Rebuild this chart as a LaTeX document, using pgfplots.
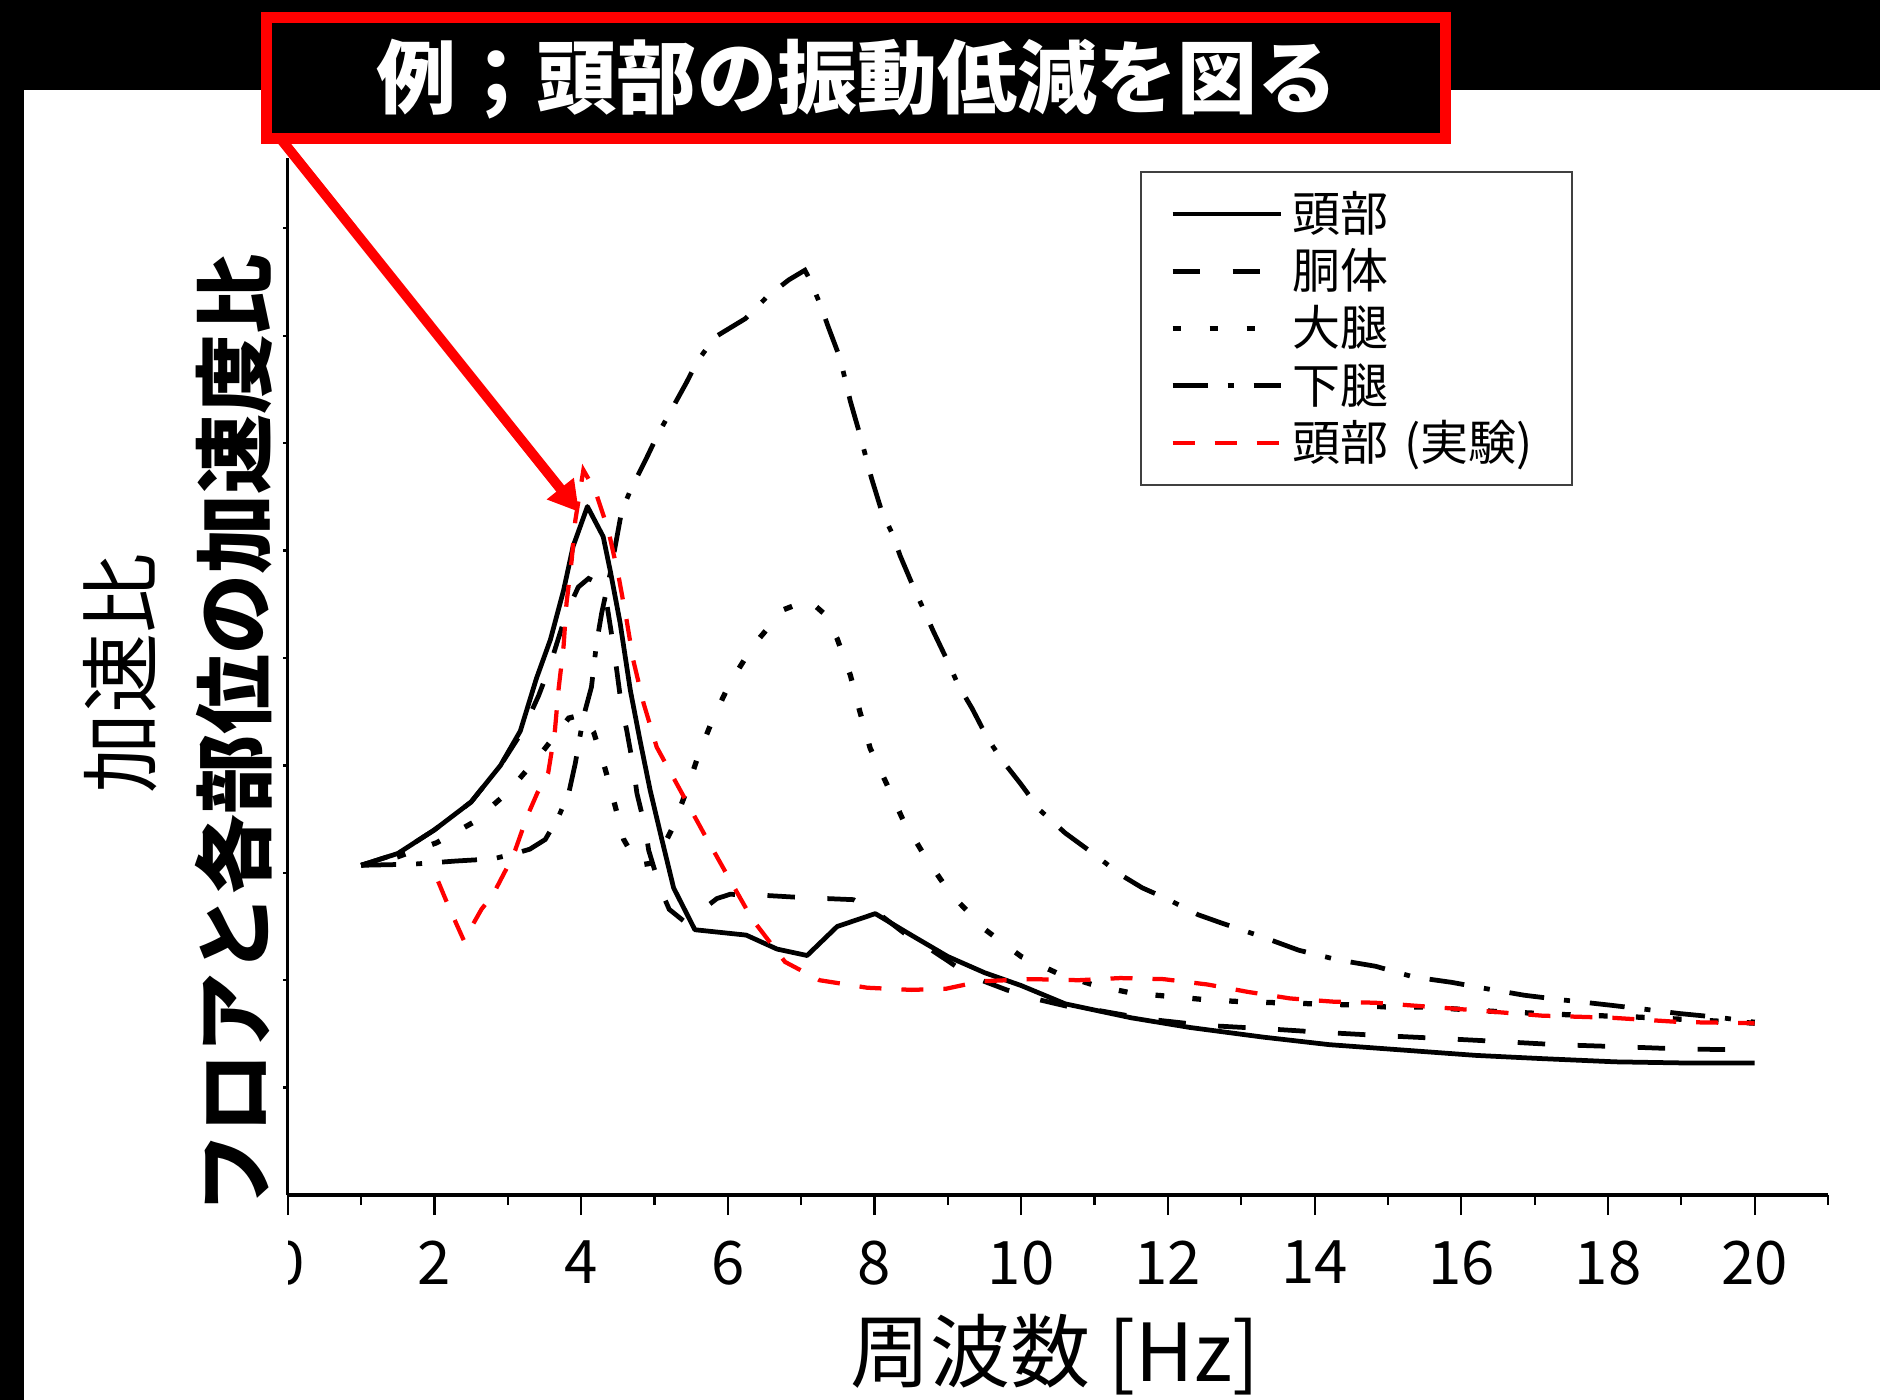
\documentclass[border=0pt]{standalone}
\usepackage{fontspec}
\setmainfont{Noto Sans CJK JP}
\usepackage{pgfplots}
\pgfplotsset{compat=1.18}
\usetikzlibrary{arrows.meta}
\begin{document}
\begin{tikzpicture}
\begin{scope}[x=0.4pt,y=-0.4pt]
\fill[black] (0,0) rectangle (1880,1400);
\fill[white] (24,90) rectangle (1880,1400);
\end{scope}
\begin{axis}[
  at={(115.12pt,-478pt)}, anchor=south west,
  scale only axis, width=616.08pt, height=414.8pt,
  xmin=0, xmax=21, ymin=0, ymax=9.655,
  axis lines=left, axis line style={-, line width=1.3pt},
  tick align=outside, tick pos=left,
  xtick={0,2,...,20}, minor xtick={1,3,...,21},
  ytick=\empty,
  major tick length=8pt, minor tick length=4pt,
  tick style={black, line width=0.9pt},
  /pgf/number format/assume math mode=true,
  xticklabel style={font=\fontsize{24}{24}\selectfont, inner sep=0pt, anchor=north, yshift=-10pt},
  clip=false,
  legend cell align=left,
  legend style={at={(0.5533,0.9875)}, anchor=north west,
    draw=black!75, line width=0.8pt, fill=white,
    font=\fontsize{19.2}{19.2}\selectfont,
    inner xsep=11.6pt, inner ysep=7.8pt,
    row sep=4.9pt, column sep=3.8pt,
    nodes={inner sep=0pt, text height=16pt, text depth=2pt, text width=100pt}},
  legend image code/.code={\draw[#1] (0pt,0pt) -- (43.2pt,0pt);},
]
\pgfplotsinvokeforeach{1,...,9}{\draw[line width=0.9pt] (axis cs:0,#1) -- ++(-1.8pt,0pt);}

% 頭部 (solid)
\addplot[black, line width=1.9pt, line join=round] coordinates {
(1.0,3.07) (1.5,3.18) (2.0,3.40) (2.5,3.66) (2.9,4.00) (3.17,4.32) (3.39,4.81)
(3.58,5.17) (3.76,5.63) (3.89,6.04) (4.085,6.41) (4.30,6.13) (4.40,5.80) (4.53,5.33)
(4.67,4.70) (4.80,4.24) (4.94,3.77) (5.10,3.31) (5.26,2.86) (5.55,2.47) (6.25,2.42)
(6.67,2.29) (7.08,2.23) (7.49,2.50) (8.01,2.62) (8.5,2.42) (9.0,2.22) (9.5,2.07)
(10.0,1.95) (10.6,1.78) (11.5,1.65) (12.3,1.56) (13.3,1.47) (14.2,1.40) (15.2,1.35)
(16.2,1.30) (17.1,1.27) (18.1,1.24) (19.0,1.23) (20,1.23)};
\addlegendentry{頭部}

% 胴体 (dashed)
\addplot[black, line width=1.9pt, dash pattern=on 11pt off 13pt] coordinates {
(1.0,3.07) (1.5,3.18) (2.0,3.40) (2.5,3.66) (2.9,4.00) (3.2,4.32) (3.42,4.65)
(3.57,4.92) (3.67,5.14) (3.80,5.42) (3.96,5.66) (4.10,5.74) (4.22,5.70) (4.35,5.50)
(4.44,5.11) (4.49,4.86) (4.55,4.55) (4.62,4.33) (4.71,3.99) (4.76,3.74) (4.87,3.43)
(4.92,3.21) (5.08,2.85) (5.2,2.66) (5.4,2.55) (5.55,2.59) (5.66,2.66) (5.85,2.76)
(6.03,2.80) (6.5,2.79) (7.0,2.77) (7.71,2.75) (8.0,2.65) (8.4,2.44) (8.6,2.36)
(9.0,2.18) (9.3,2.04) (9.8,1.91) (10.17,1.83) (10.67,1.75) (11.04,1.72) (11.7,1.64)
(12.5,1.58) (13.3,1.55) (14.1,1.515) (14.9,1.485) (15.8,1.455) (16.5,1.43) (17.3,1.40)
(18.2,1.38) (19.0,1.36) (20,1.35)};
\addlegendentry{胴体}

% 大腿 (dotted)
\addplot[black, line width=2.1pt, dash pattern=on 3.5pt off 11.3pt] coordinates {
(1.0,3.07) (1.5,3.15) (2.03,3.28) (2.53,3.47) (3.0,3.75) (3.44,4.10) (3.83,4.44)
(4.0,4.47) (4.17,4.31) (4.33,3.96) (4.46,3.63) (4.58,3.31) (4.78,3.07) (4.96,3.09)
(5.1,3.22) (5.24,3.41) (5.44,3.77) (5.6,4.10) (5.8,4.44) (6.03,4.77) (6.35,5.12)
(6.76,5.45) (7.1,5.54) (7.3,5.42) (7.49,5.18) (7.67,4.84) (7.8,4.50) (7.94,4.16)
(8.17,3.82) (8.39,3.49) (8.69,3.15) (9.03,2.81) (9.51,2.47) (10.0,2.22) (10.51,2.06)
(11.01,1.95) (11.51,1.88) (12.01,1.85) (12.49,1.82) (13.0,1.80) (13.5,1.79) (14.0,1.78)
(14.5,1.77) (15.0,1.75) (15.5,1.75) (16.44,1.71) (17.4,1.68) (18.3,1.66) (19.2,1.63)
(20,1.60)};
\addlegendentry{大腿}

% 下腿 (dash-dot)
\addplot[black, line width=1.9pt, dash pattern=on 14pt off 8pt on 2.4pt off 8pt] coordinates {
(1.0,3.07) (1.7,3.08) (2.3,3.11) (2.8,3.13) (3.1,3.18) (3.3,3.22) (3.51,3.31)
(3.69,3.52) (3.83,3.74) (3.92,4.02) (4.03,4.45) (4.14,4.73) (4.21,5.14) (4.28,5.42)
(4.4,5.8) (4.55,6.36) (4.67,6.56) (4.89,6.86) (5.03,7.06) (5.19,7.26) (5.44,7.57)
(5.58,7.76) (5.83,7.99) (6.24,8.16) (6.53,8.36) (6.83,8.52) (7.05,8.61) (7.12,8.52)
(7.26,8.29) (7.37,8.08) (7.53,7.79) (7.60,7.59) (7.67,7.39) (7.80,7.08) (7.96,6.67)
(8.10,6.36) (8.24,6.16) (8.35,5.95) (8.53,5.66) (8.67,5.45) (8.80,5.25) (9.01,4.95)
(9.14,4.75) (9.33,4.53) (9.55,4.24) (9.76,4.03) (9.99,3.83) (10.26,3.58) (10.6,3.37)
(10.98,3.18) (11.36,2.98) (11.65,2.86) (11.98,2.76) (12.41,2.61) (12.74,2.53)
(13.26,2.41) (13.78,2.28) (14.31,2.19) (14.83,2.13) (15.35,2.03) (15.87,1.98)
(16.35,1.92) (16.86,1.86) (17.4,1.815) (18.0,1.77) (18.5,1.73) (18.97,1.69)
(19.5,1.655) (20,1.61)};
\addlegendentry{下腿}

% 頭部（実験） (red dashed)
\addplot[red, line width=1.7pt, dash pattern=on 8.8pt off 8pt] coordinates {
(2.05,2.92) (2.19,2.69) (2.40,2.37) (2.64,2.66) (2.80,2.80) (2.99,3.05) (3.10,3.21)
(3.26,3.52) (3.40,3.74) (3.55,3.93) (3.64,4.31) (3.69,4.70) (3.76,5.11) (3.80,5.51)
(3.87,5.91) (3.92,6.28) (4.03,6.75) (4.19,6.56) (4.37,6.19) (4.51,5.76) (4.62,5.35)
(4.71,4.98) (4.85,4.58) (5.03,4.17) (5.35,3.77) (5.67,3.37) (5.99,2.98) (6.33,2.57)
(6.78,2.17) (7.25,2.00) (7.9,1.93) (8.5,1.91) (8.97,1.92) (9.45,1.99) (10.15,2.01)
(10.78,2.00) (11.35,2.02) (11.94,2.01) (12.54,1.96) (13.1,1.89) (13.67,1.83)
(14.26,1.80) (14.83,1.79) (15.42,1.76) (16.0,1.73) (17.1,1.67) (18.06,1.65)
(19.0,1.61) (20,1.60)};
\addlegendentry{頭部 (実験)}
\end{axis}
\begin{scope}[x=0.4pt,y=-0.4pt]
\fill[white] (236,1222) rectangle (287.5,1310);
\node[rotate=90,font=\fontsize{32}{32}\selectfont] at (120,673) {加速比};
\node[rotate=90,font=\bfseries\fontsize{32}{32}\selectfont] at (234,734) {フロアと各部位の加速度比};
\node[font=\fontsize{32}{32}\selectfont] at (1055,1355) {周波数 [Hz]};
\draw[red,line width=4pt,-{Triangle[length=12pt,width=13pt]}] (272,128) -- (579,512);
\fill[red] (261,12) rectangle (1451,144);
\fill[black] (272,23) rectangle (1440,133);
\node[text=white,font=\bfseries\fontsize{32}{32}\selectfont] at (857,79) {例；頭部の振動低減を図る};
\pgfresetboundingbox
\path[use as bounding box] (0,0) rectangle (1880,1400);
\end{scope}
\end{tikzpicture}
\end{document}
